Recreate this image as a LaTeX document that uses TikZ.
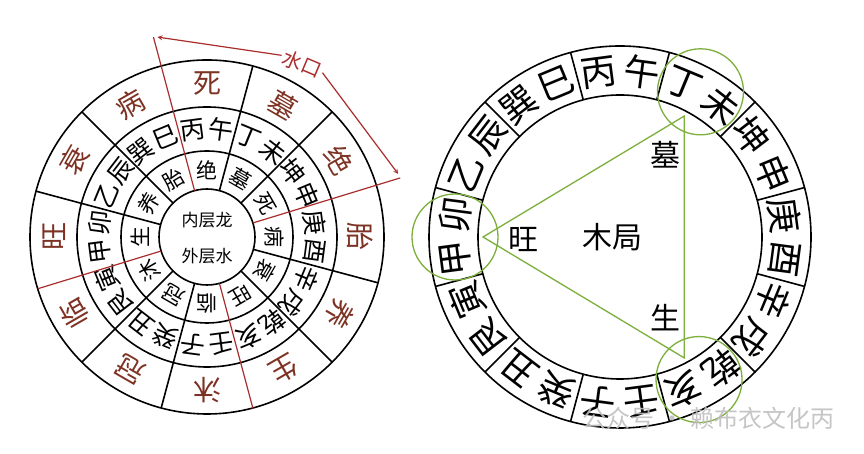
\documentclass[tikz,border=0pt]{standalone}
\usepackage{fontspec}
\newfontfamily\cjk{Noto Sans CJK SC}
\usetikzlibrary{arrows}
\usetikzlibrary{calc}

\definecolor{shuired}{RGB}{170,45,45}
\definecolor{stagebrown}{RGB}{125,50,35}
\definecolor{juegreen}{RGB}{125,175,60}

\tikzset{
  ringline/.style={line width=1.6pt},
  shuiline/.style={line width=1.2pt, color=shuired},
  stageout/.style={font=\cjk\fontsize{28}{28}\selectfont, text=stagebrown, inner sep=0pt},
  shan/.style={font=\cjk\fontsize{25}{25}\selectfont, inner sep=0pt},
  stagein/.style={font=\cjk\fontsize{21}{21}\selectfont, inner sep=0pt},
  bigshan/.style={font=\cjk\fontsize{36}{36}\selectfont, inner sep=0pt},
  greenline/.style={line width=1.3pt, color=juegreen},
  bigtext/.style={font=\cjk\fontsize{30}{30}\selectfont, inner sep=0pt},
}

\begin{document}
\begin{tikzpicture}[x=1pt, y=1pt]
          \fill[white] (0,0) rectangle (864,454);
          \useasboundingbox (0,0) rectangle (864,454);

          % left dial: outer water, inner dragon
          \coordinate (L) at (207,217);
          \draw[ringline] (L) circle (48);
          \draw[ringline] (L) circle (86);
          \draw[ringline] (L) circle (130);
          \draw[ringline] (L) circle (177);
          \foreach \a in {45,75,135,165,225,255,315,345}
            \draw[ringline] ($(L)+(\a:48)$) -- ($(L)+(\a:177)$);

          \foreach \t [count=\i] in {死,墓,绝,胎,养,生,沐,冠,临,旺,衰,病} {
            \pgfmathsetmacro\a{120-30*\i}
            \node[stageout, rotate=\a-90] (lo-\i) at ($(L)+(\a:153)$) {\t};
          }
          \foreach \t [count=\i] in {丙,午,丁,未,坤,申,庚,酉,辛,戌,乾,亥,壬,子,癸,丑,艮,寅,甲,卯,乙,辰,巽,巳} {
            \pgfmathsetmacro\a{112.5-15*\i}
            \node[shan, rotate=\a-90] (lm-\i) at ($(L)+(\a:108)$) {\t};
          }
          \foreach \t [count=\i] in {绝,墓,死,病,衰,旺,临,冠,沐,生,养,胎} {
            \pgfmathsetmacro\a{120-30*\i}
            \node[stagein, rotate=\a-90] (li-\i) at ($(L)+(\a:67)$) {\t};
          }
          \node[font=\cjk\fontsize{17}{17}\selectfont] (neiceng) at (207,234) {内层龙};
          \node[font=\cjk\fontsize{17}{17}\selectfont] (waiceng) at (207,198) {外层水};

          % water mouth
          \coordinate (shuiA) at ($(L)+(105:207)$);
          \coordinate (shuiB) at ($(L)+(17:202)$);
          \draw[shuiline] (shuiA) -- ($(L)+(105:48)$);
          \draw[shuiline] ($(L)+(285:48)$) -- ($(L)+(285:178)$);
          \draw[shuiline] (shuiB) -- ($(L)+(17:48)$);
          \draw[shuiline] ($(L)+(197:48)$) -- ($(L)+(197:177)$);
          \node[font=\cjk\fontsize{20}{20}\selectfont, text=shuired, rotate=-23, inner sep=2pt] (shuikou) at (302,390) {水口};
          \draw[shuiline, -stealth] (shuikou.west) -- ($(shuiA)+(4,0)$);
          \draw[shuiline, -stealth] (shuikou.east) -- ($(shuiB)+(-2,4)$);

          % right dial: wood frame
          \coordinate (R) at (620,217);
          \draw[ringline] (R) circle (142);
          \draw[ringline] (R) circle (191);
          \foreach \a in {15,45,...,345}
            \draw[ringline] ($(R)+(\a:142)$) -- ($(R)+(\a:191)$);
          \foreach \t [count=\i] in {丙,午,丁,未,坤,申,庚,酉,辛,戌,乾,亥,壬,子,癸,丑,艮,寅,甲,卯,乙,辰,巽,巳} {
            \pgfmathsetmacro\a{112.5-15*\i}
            \node[bigshan, rotate=\a-90] (rm-\i) at ($(R)+(\a:166)$) {\t};
          }

          \draw[greenline] ($(R)+(61:166)$) circle (43);
          \draw[greenline] ($(R)+(-61:163)$) circle (43);
          \draw[greenline] ($(R)+(180:165)$) circle (43);
          \coordinate (wang) at ($(R)+(180:137)$);
          \coordinate (mu) at ($(R)+(62:137)$);
          \coordinate (sheng) at ($(R)+(-62:137)$);
          \draw[greenline] (wang) -- (mu) -- (sheng) -- cycle;

          \node[bigtext] (muju) at (612,217) {木局};
          \node[bigtext] (wangtxt) at (523,215) {旺};
          \node[bigtext] (mutxt) at (665,299) {墓};
          \node[bigtext] (shengtxt) at (665,136) {生};

          \node[font=\cjk\fontsize{24}{24}\selectfont, text=gray!50, opacity=0.9] (mark) at (708,36) {公众号\hspace{6pt}·\hspace{6pt}赖布衣文化丙};

        \end{tikzpicture}
\end{document}
